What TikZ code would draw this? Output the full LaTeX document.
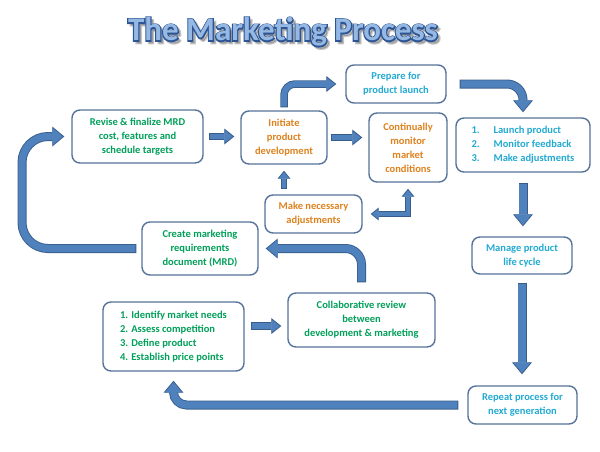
\documentclass[tikz,border=0pt]{standalone}
\usepackage{fontspec}
\setmainfont{Carlito}
\newfontfamily\titleoutline[RawFeature={embolden=7}]{Carlito Bold}
\usetikzlibrary{arrows.meta}

\definecolor{mkgreen}{RGB}{0,160,90}
\definecolor{mkorange}{RGB}{222,130,30}
\definecolor{mkcyan}{RGB}{35,170,210}
\definecolor{boxline}{RGB}{85,115,155}
\definecolor{arrfill}{RGB}{79,129,189}
\definecolor{arrline}{RGB}{56,93,138}
\definecolor{titlefill}{RGB}{150,185,228}
\definecolor{titleline}{RGB}{45,85,150}

\tikzset{every picture/.style={line width=0.75pt}}
\tikzset{
  box/.style={draw=boxline, line width=1.4pt, rounded corners=8pt, fill=white, inner sep=0pt, align=center, font=\bfseries\fontsize{10.5}{14}\selectfont},
  title/.style={inner sep=0pt, font=\bfseries\fontsize{33}{36}\selectfont},
  % block arrows: outline pass (o) and fill pass (i)
  bigo/.style={draw=arrline, line width=9pt, >={Triangle[width=20pt,length=12pt,line width=0pt]}},
  bigi/.style={draw=arrfill, line width=7.2pt, >={Triangle[width=17.7pt,length=10.6pt,line width=0pt]}},
  mido/.style={draw=arrline, line width=7.5pt, >={Triangle[width=16pt,length=10pt,line width=0pt]}},
  midi/.style={draw=arrfill, line width=5.7pt, >={Triangle[width=13.4pt,length=8.4pt,line width=0pt]}},
  smallo/.style={draw=arrline, line width=6pt, >={Triangle[width=13pt,length=8pt,line width=0pt]}},
  smalli/.style={draw=arrfill, line width=4.2pt, >={Triangle[width=10.7pt,length=6.6pt,line width=0pt]}}
}

\begin{document}
\begin{tikzpicture}[x=1pt,y=1pt,yscale=-1,xscale=1]
\useasboundingbox (0,0) rectangle (600,451);

% Title: soft shadow, dark outline, light fill
\draw (285.5,34.5) node (ttlshd) [title, text=black, opacity=0.22, font=\titleoutline\fontsize{33}{36}\selectfont] {The Marketing Process};
\draw (283,32) node (ttlout) [title, text=titleline, font=\titleoutline\fontsize{33}{36}\selectfont] {The Marketing Process};
\draw (283,32) node (ttl) [title, text=titlefill] {The Marketing Process};

%Rounded Rect
\draw (137.5,136.5) node (rev) [box, text=mkgreen, minimum width=131pt, minimum height=53pt] {Revise \& finalize MRD\\cost, features and\\schedule targets};
%Rounded Rect
\draw (284,137.5) node (init) [box, text=mkorange, minimum width=86pt, minimum height=53pt] {Initiate\\product\\development};
%Rounded Rect
\draw (396,84) node (prep) [box, text=mkcyan, minimum width=100pt, minimum height=38pt] {Prepare for\\product launch};
%Rounded Rect
\draw (408,147.5) node (cont) [box, text=mkorange, minimum width=78pt, minimum height=69pt] {Continually\\monitor\\market\\conditions};
%Rounded Rect
\draw (523,145) node (launch) [box, text=mkcyan, align=left, minimum width=134pt, minimum height=54pt] {\makebox[22pt][l]{1.}Launch product\\\makebox[22pt][l]{2.}Monitor feedback\\\makebox[22pt][l]{3.}Make adjustments};
%Rounded Rect
\draw (313.5,214) node (make) [box, text=mkorange, minimum width=97pt, minimum height=38pt] {Make necessary\\adjustments};
%Rounded Rect
\draw (522,255.5) node (manage) [box, text=mkcyan, minimum width=100pt, minimum height=37pt] {Manage product\\life cycle};
%Rounded Rect
\draw (200,248.5) node (create) [box, text=mkgreen, minimum width=116pt, minimum height=53pt] {Create marketing\\requirements\\document (MRD)};
%Rounded Rect
\draw (173.5,336.5) node (ident) [box, text=mkgreen, align=left, minimum width=141pt, minimum height=69pt] {1. Identify market needs\\2. Assess competition\\3. Define product\\4. Establish price points};
%Rounded Rect
\draw (361.5,320) node (collab) [box, text=mkgreen, minimum width=147pt, minimum height=54pt] {Collaborative review\\between\\development \& marketing};
%Rounded Rect
\draw (522.5,405) node (rep) [box, text=mkcyan, minimum width=109pt, minimum height=38pt] {Repeat process for\\next generation};

\coordinate (ylane) at (0,326);
\coordinate (xloop) at (22,190);

%Block Arrow
\draw [mido, ->, shorten <=5pt, shorten >=6pt] (rev.east) -- (rev.east -| init.west);
\draw [midi, ->, shorten <=6pt, shorten >=7.6pt] (rev.east) -- (rev.east -| init.west);
%Block Arrow
\draw [mido, ->, rounded corners=11pt, shorten <=3pt, shorten >=9pt] (init.north) |- (prep.west);
\draw [midi, ->, rounded corners=11pt, shorten <=4pt, shorten >=10.6pt] (init.north) |- (prep.west);
%Block Arrow
\draw [mido, ->, shorten <=3pt, shorten >=6pt] (init.east) -- (init.east -| cont.west);
\draw [midi, ->, shorten <=4pt, shorten >=7.6pt] (init.east) -- (init.east -| cont.west);
%Block Arrow
\draw [bigo, ->, rounded corners=16pt, shorten <=13pt, shorten >=5pt] (prep.east) -| (launch.north);
\draw [bigi, ->, rounded corners=16pt, shorten <=14pt, shorten >=6.4pt] (prep.east) -| (launch.north);
%Block Arrow
\draw [bigo, ->, shorten <=10pt, shorten >=10pt] (launch.south) -- (launch.south |- manage.north);
\draw [bigi, ->, shorten <=11pt, shorten >=11.4pt] (launch.south) -- (launch.south |- manage.north);
%Block Arrow
\draw [smallo, ->, shorten <=5pt, shorten >=6pt] (init.south |- make.north) -- (init.south);
\draw [smalli, ->, shorten <=6pt, shorten >=7.4pt] (init.south |- make.north) -- (init.south);
%Block Arrow
\draw [smallo, <->, shorten <=8pt, shorten >=6pt] (make.east) -| (cont.south);
\draw [smalli, <->, shorten <=9.4pt, shorten >=7.4pt] (make.east) -| (cont.south);
%Block Arrow
\draw [bigo, ->, shorten <=8pt, shorten >=11pt] (manage.south) -- (manage.south |- rep.north);
\draw [bigi, ->, shorten <=9pt, shorten >=12.4pt] (manage.south) -- (manage.south |- rep.north);
%Block Arrow
\draw [bigo, ->, rounded corners=13pt, shorten <=9pt, shorten >=9pt] (rep.west) -| (ident.south);
\draw [bigi, ->, rounded corners=13pt, shorten <=10pt, shorten >=10.4pt] (rep.west) -| (ident.south);
%Block Arrow
\draw [mido, ->, shorten <=6pt, shorten >=6pt] (ident.east |- ylane) -- (collab.west |- ylane);
\draw [midi, ->, shorten <=7pt, shorten >=7.6pt] (ident.east |- ylane) -- (collab.west |- ylane);
%Block Arrow
\draw [bigo, ->, rounded corners=16pt, shorten <=10pt, shorten >=7pt] (collab.north) |- (create.east);
\draw [bigi, ->, rounded corners=16pt, shorten <=11pt, shorten >=8.4pt] (collab.north) |- (create.east);
%Block Arrow
\draw [bigo, ->, rounded corners=26pt, shorten <=5pt, shorten >=7pt] (create.west) -| (xloop) |- (rev.west);
\draw [bigi, ->, rounded corners=26pt, shorten <=6pt, shorten >=8.4pt] (create.west) -| (xloop) |- (rev.west);

\end{tikzpicture}
\end{document}
